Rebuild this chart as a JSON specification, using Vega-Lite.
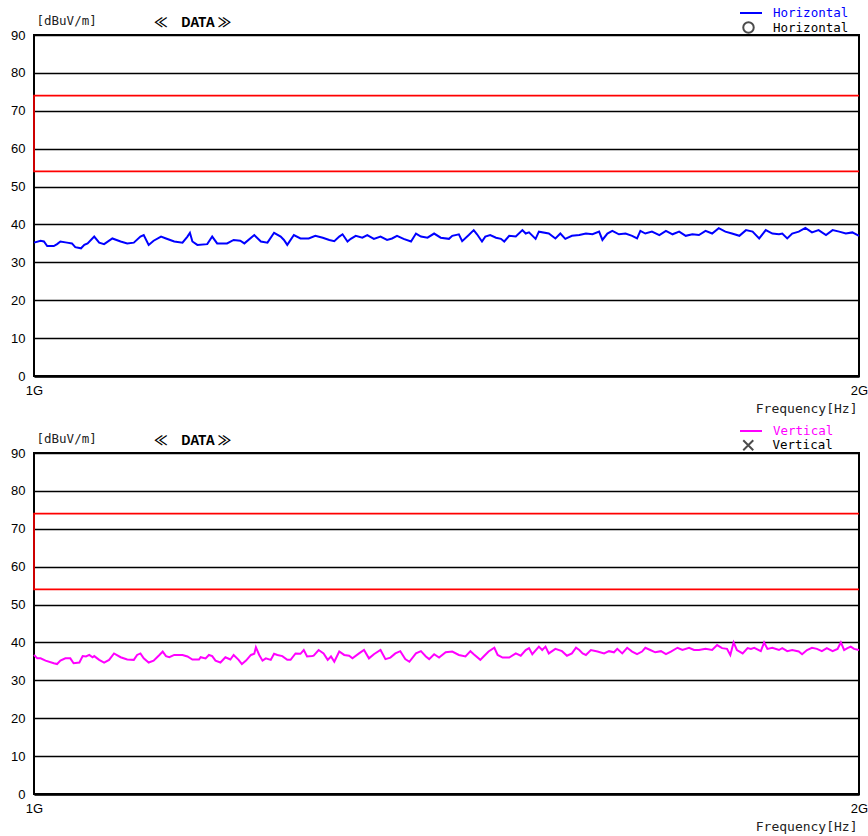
{
  "$schema": "https://vega.github.io/schema/vega-lite/v6.json",
  "padding": {"left": 9, "top": 0, "right": 0, "bottom": 0},
  "background": "white",
  "datasets": {
    "limit": [{"f": 2000, "v": 74, "o": 1}, {"f": 1000, "v": 74, "o": 2}, {"f": 1000, "v": 54, "o": 3}, {"f": 2000, "v": 54, "o": 4}],
    "none": [{"f": 1000, "v": null}],
    "h": [
      {"f":1000,"v":35.2},{"f":1008,"v":35.7},{"f":1012,"v":35.5},{"f":1016,"v":34.3},{"f":1024,"v":34.3},{"f":1028,"v":34.8},{"f":1032,"v":35.5},{"f":1040,"v":35.2},{"f":1046,"v":35.0},{"f":1050,"v":34.0},{"f":1057,"v":33.7},{"f":1061,"v":34.6},{"f":1065,"v":35.0},{"f":1073,"v":36.8},{"f":1079,"v":35.2},{"f":1085,"v":34.8},{"f":1095,"v":36.3},{"f":1105,"v":35.5},{"f":1113,"v":35.0},{"f":1121,"v":35.2},{"f":1129,"v":36.8},{"f":1133,"v":37.2},{"f":1139,"v":34.6},{"f":1145,"v":35.7},{"f":1154,"v":36.8},{"f":1160,"v":36.3},{"f":1170,"v":35.5},{"f":1180,"v":35.2},{"f":1186,"v":36.8},{"f":1189,"v":37.8},{"f":1192,"v":35.5},{"f":1198,"v":34.6},{"f":1210,"v":34.8},{"f":1216,"v":36.8},{"f":1222,"v":35.0},{"f":1234,"v":35.0},{"f":1242,"v":35.9},{"f":1250,"v":35.7},{"f":1255,"v":35.0},{"f":1267,"v":37.2},{"f":1275,"v":35.5},{"f":1283,"v":35.2},{"f":1291,"v":37.8},{"f":1299,"v":36.8},{"f":1303,"v":35.9},{"f":1307,"v":34.6},{"f":1315,"v":37.2},{"f":1323,"v":36.3},{"f":1333,"v":36.3},{"f":1341,"v":37.0},{"f":1350,"v":36.5},{"f":1358,"v":35.9},{"f":1364,"v":35.6},{"f":1370,"v":36.8},{"f":1374,"v":37.4},{"f":1380,"v":35.5},{"f":1384,"v":36.2},{"f":1390,"v":37.0},{"f":1398,"v":36.5},{"f":1404,"v":37.2},{"f":1412,"v":36.2},{"f":1420,"v":36.8},{"f":1428,"v":35.9},{"f":1434,"v":36.3},{"f":1440,"v":37.0},{"f":1448,"v":36.2},{"f":1457,"v":35.5},{"f":1463,"v":37.6},{"f":1469,"v":36.8},{"f":1477,"v":36.5},{"f":1485,"v":37.6},{"f":1493,"v":36.5},{"f":1503,"v":36.2},{"f":1507,"v":37.0},{"f":1515,"v":37.4},{"f":1519,"v":35.6},{"f":1527,"v":37.2},{"f":1533,"v":38.5},{"f":1537,"v":37.4},{"f":1543,"v":35.5},{"f":1547,"v":36.8},{"f":1553,"v":37.2},{"f":1560,"v":36.5},{"f":1566,"v":36.2},{"f":1570,"v":35.5},{"f":1576,"v":37.0},{"f":1584,"v":36.8},{"f":1592,"v":38.5},{"f":1596,"v":37.6},{"f":1600,"v":37.9},{"f":1608,"v":36.2},{"f":1612,"v":38.1},{"f":1624,"v":37.6},{"f":1632,"v":36.3},{"f":1638,"v":37.6},{"f":1644,"v":36.2},{"f":1652,"v":37.0},{"f":1661,"v":37.2},{"f":1669,"v":37.6},{"f":1677,"v":37.4},{"f":1685,"v":38.1},{"f":1689,"v":35.9},{"f":1695,"v":37.6},{"f":1701,"v":38.3},{"f":1709,"v":37.4},{"f":1717,"v":37.6},{"f":1725,"v":37.0},{"f":1731,"v":36.3},{"f":1735,"v":38.3},{"f":1741,"v":37.6},{"f":1749,"v":38.1},{"f":1758,"v":37.2},{"f":1766,"v":38.3},{"f":1774,"v":37.4},{"f":1782,"v":38.1},{"f":1790,"v":37.0},{"f":1798,"v":37.4},{"f":1806,"v":37.2},{"f":1814,"v":38.3},{"f":1822,"v":37.6},{"f":1830,"v":39.0},{"f":1838,"v":38.1},{"f":1846,"v":37.6},{"f":1855,"v":37.0},{"f":1863,"v":38.5},{"f":1871,"v":38.1},{"f":1879,"v":36.3},{"f":1887,"v":38.5},{"f":1895,"v":37.6},{"f":1903,"v":37.4},{"f":1907,"v":37.6},{"f":1913,"v":36.3},{"f":1919,"v":37.6},{"f":1927,"v":38.1},{"f":1935,"v":39.1},{"f":1943,"v":37.9},{"f":1951,"v":38.5},{"f":1960,"v":37.2},{"f":1968,"v":38.5},{"f":1976,"v":38.1},{"f":1984,"v":37.6},{"f":1992,"v":37.9},{"f":2000,"v":37.0}
    ],
    "vv": [
      {"f":1000,"v":36.7},{"f":1004,"v":35.8},{"f":1008,"v":35.8},{"f":1014,"v":35.2},{"f":1024,"v":34.5},{"f":1028,"v":34.3},{"f":1032,"v":35.2},{"f":1038,"v":35.8},{"f":1044,"v":35.8},{"f":1048,"v":34.5},{"f":1055,"v":34.7},{"f":1059,"v":36.4},{"f":1063,"v":36.3},{"f":1067,"v":36.7},{"f":1071,"v":36.1},{"f":1073,"v":36.4},{"f":1079,"v":35.4},{"f":1085,"v":34.7},{"f":1091,"v":35.4},{"f":1097,"v":37.1},{"f":1105,"v":36.1},{"f":1113,"v":35.5},{"f":1121,"v":35.4},{"f":1125,"v":36.7},{"f":1129,"v":37.1},{"f":1133,"v":35.8},{"f":1139,"v":34.7},{"f":1145,"v":35.2},{"f":1152,"v":36.7},{"f":1156,"v":37.6},{"f":1160,"v":36.4},{"f":1164,"v":36.1},{"f":1170,"v":36.7},{"f":1180,"v":36.7},{"f":1186,"v":36.3},{"f":1192,"v":35.5},{"f":1200,"v":35.5},{"f":1202,"v":36.1},{"f":1208,"v":35.8},{"f":1212,"v":36.7},{"f":1216,"v":36.4},{"f":1220,"v":35.2},{"f":1226,"v":34.7},{"f":1232,"v":36.1},{"f":1238,"v":35.5},{"f":1242,"v":36.7},{"f":1248,"v":35.4},{"f":1252,"v":34.3},{"f":1257,"v":35.2},{"f":1263,"v":36.7},{"f":1267,"v":37.0},{"f":1269,"v":38.7},{"f":1273,"v":36.7},{"f":1277,"v":35.2},{"f":1281,"v":35.8},{"f":1287,"v":35.4},{"f":1291,"v":37.0},{"f":1295,"v":36.7},{"f":1301,"v":36.4},{"f":1307,"v":35.4},{"f":1311,"v":35.4},{"f":1317,"v":37.1},{"f":1323,"v":37.0},{"f":1327,"v":38.0},{"f":1331,"v":36.3},{"f":1337,"v":36.4},{"f":1339,"v":36.5},{"f":1345,"v":38.0},{"f":1351,"v":37.1},{"f":1356,"v":35.4},{"f":1360,"v":36.3},{"f":1364,"v":34.9},{"f":1370,"v":37.6},{"f":1376,"v":36.7},{"f":1382,"v":36.5},{"f":1386,"v":35.8},{"f":1394,"v":37.1},{"f":1400,"v":38.0},{"f":1406,"v":35.8},{"f":1412,"v":36.9},{"f":1420,"v":38.0},{"f":1426,"v":35.6},{"f":1432,"v":36.0},{"f":1438,"v":37.1},{"f":1444,"v":37.7},{"f":1450,"v":35.6},{"f":1455,"v":34.9},{"f":1463,"v":37.1},{"f":1469,"v":37.7},{"f":1475,"v":36.3},{"f":1479,"v":35.6},{"f":1485,"v":36.9},{"f":1491,"v":36.0},{"f":1499,"v":37.4},{"f":1507,"v":37.6},{"f":1515,"v":36.7},{"f":1523,"v":36.3},{"f":1529,"v":37.7},{"f":1533,"v":36.9},{"f":1541,"v":35.4},{"f":1545,"v":36.3},{"f":1551,"v":37.6},{"f":1558,"v":38.6},{"f":1562,"v":36.7},{"f":1568,"v":36.0},{"f":1576,"v":36.0},{"f":1584,"v":37.1},{"f":1590,"v":36.5},{"f":1596,"v":38.0},{"f":1600,"v":38.5},{"f":1604,"v":36.9},{"f":1612,"v":38.9},{"f":1616,"v":38.0},{"f":1620,"v":38.9},{"f":1624,"v":37.1},{"f":1632,"v":38.3},{"f":1640,"v":37.7},{"f":1646,"v":36.5},{"f":1652,"v":37.1},{"f":1657,"v":38.6},{"f":1661,"v":38.0},{"f":1665,"v":37.1},{"f":1669,"v":36.7},{"f":1675,"v":38.0},{"f":1683,"v":37.6},{"f":1691,"v":37.1},{"f":1697,"v":37.7},{"f":1703,"v":37.4},{"f":1707,"v":38.3},{"f":1713,"v":37.1},{"f":1719,"v":38.6},{"f":1725,"v":37.6},{"f":1731,"v":36.9},{"f":1737,"v":37.6},{"f":1741,"v":38.6},{"f":1747,"v":38.0},{"f":1753,"v":37.4},{"f":1760,"v":37.7},{"f":1766,"v":36.9},{"f":1772,"v":37.6},{"f":1780,"v":38.6},{"f":1786,"v":38.0},{"f":1794,"v":38.6},{"f":1800,"v":38.0},{"f":1806,"v":38.0},{"f":1814,"v":38.3},{"f":1822,"v":38.0},{"f":1828,"v":39.3},{"f":1834,"v":38.5},{"f":1840,"v":38.3},{"f":1844,"v":36.7},{"f":1848,"v":40.0},{"f":1852,"v":38.0},{"f":1859,"v":37.1},{"f":1865,"v":38.5},{"f":1869,"v":38.3},{"f":1873,"v":38.6},{"f":1881,"v":37.7},{"f":1885,"v":40.0},{"f":1889,"v":38.3},{"f":1895,"v":38.6},{"f":1903,"v":38.0},{"f":1907,"v":38.5},{"f":1913,"v":37.7},{"f":1919,"v":38.0},{"f":1927,"v":37.6},{"f":1931,"v":36.9},{"f":1937,"v":38.0},{"f":1943,"v":38.6},{"f":1949,"v":38.3},{"f":1955,"v":37.7},{"f":1961,"v":38.5},{"f":1968,"v":37.7},{"f":1974,"v":38.3},{"f":1978,"v":40.0},{"f":1982,"v":38.0},{"f":1986,"v":38.5},{"f":1990,"v":38.9},{"f":1994,"v":38.3},{"f":2000,"v":38.0}
    ]
  },
  "config": {
    "view": {"stroke": "black", "strokeWidth": 2},
    "axisY": {"grid": true, "gridColor": "black", "gridWidth": 1.5, "gridOpacity": 1, "ticks": false, "domain": false, "labelOverlap": false, "labelPadding": 9, "labelFont": "Liberation Sans", "labelFontSize": 13, "labelColor": "black", "titleAngle": 0, "titleX": 2, "titleY": -15, "titleAlign": "left", "titleBaseline": "middle", "titleFont": "DejaVu Sans Mono", "titleFontSize": 12.5, "titleFontWeight": "normal", "titleColor": "#222"},
    "axisX": {"grid": false, "ticks": false, "domain": true, "domainColor": "black", "domainWidth": 2.5, "labelFont": "Liberation Sans", "labelFontSize": 13, "labelColor": "black", "labelPadding": 8, "labelFlush": false, "labelOverlap": false, "titleX": 823, "titleY": 32, "titleAlign": "right", "titleBaseline": "middle", "titleFont": "DejaVu Sans Mono", "titleFontSize": 13, "titleFontWeight": "normal", "titleColor": "#222"},
    "legend": {"orient": "none", "title": null, "padding": 0, "labelFont": "DejaVu Sans Mono", "labelFontSize": 12.5},
    "title": {"anchor": "start", "frame": "group", "dx": 120, "offset": -28, "font": "Noto Sans CJK JP", "fontSize": 13.5, "fontWeight": "bold", "color": "black"}
  },
  "vconcat": [
    {
      "title": "≪\u3000DATA ≫",
      "width": 825,
      "height": 341,
      "encoding": {
        "x": {"field": "f", "type": "quantitative", "scale": {"domain": [1000, 2000], "nice": false, "zero": false}, "axis": {"values": [1000, 2000], "labelExpr": "datum.value == 1000 ? '1G' : '2G'", "title": "Frequency[Hz]"}},
        "y": {"field": "v", "type": "quantitative", "scale": {"domain": [0, 90], "nice": false}, "axis": {"values": [0, 10, 20, 30, 40, 50, 60, 70, 80, 90], "title": "[dBuV/m]"}}
      },
      "layer": [
        {
          "data": {"name": "limit"},
          "mark": {"type": "line", "color": "red", "strokeWidth": 1.6, "clip": false},
          "encoding": {"order": {"field": "o", "type": "quantitative"}}
        },
        {
          "data": {"name": "h"},
          "mark": {"type": "line", "strokeWidth": 2},
          "encoding": {
            "color": {"datum": "Horizontal", "scale": {"domain": ["Horizontal"], "range": ["#0000ff"]}, "legend": {"legendX": 705, "legendY": -34, "symbolType": "stroke", "symbolSize": 484, "symbolStrokeWidth": 2, "labelColor": "#0000ff", "labelOffset": 10}}
          }
        },
        {
          "data": {"name": "none"},
          "mark": {"type": "point", "color": "black", "filled": false, "strokeWidth": 2},
          "encoding": {
            "shape": {"datum": "Horizontal", "scale": {"domain": ["Horizontal"], "range": ["circle"]}, "legend": {"legendX": 708, "legendY": -14, "symbolSize": 110, "symbolStrokeColor": "black", "symbolStrokeWidth": 2, "symbolFillColor": "transparent", "labelColor": "black", "labelOffset": 18}}
          }
        }
      ],
      "resolve": {"scale": {"color": "independent", "shape": "independent"}}
    },
    {
      "title": "≪\u3000DATA ≫",
      "width": 825,
      "height": 341,
      "encoding": {
        "x": {"field": "f", "type": "quantitative", "scale": {"domain": [1000, 2000], "nice": false, "zero": false}, "axis": {"values": [1000, 2000], "labelExpr": "datum.value == 1000 ? '1G' : '2G'", "title": "Frequency[Hz]"}},
        "y": {"field": "v", "type": "quantitative", "scale": {"domain": [0, 90], "nice": false}, "axis": {"values": [0, 10, 20, 30, 40, 50, 60, 70, 80, 90], "title": "[dBuV/m]"}}
      },
      "layer": [
        {
          "data": {"name": "limit"},
          "mark": {"type": "line", "color": "red", "strokeWidth": 1.6, "clip": false},
          "encoding": {"order": {"field": "o", "type": "quantitative"}}
        },
        {
          "data": {"name": "vv"},
          "mark": {"type": "line", "strokeWidth": 2},
          "encoding": {
            "color": {"datum": "Vertical", "scale": {"domain": ["Vertical"], "range": ["#ff00ff"]}, "legend": {"legendX": 705, "legendY": -34, "symbolType": "stroke", "symbolSize": 484, "symbolStrokeWidth": 2, "labelColor": "#ff00ff", "labelOffset": 10}}
          }
        },
        {
          "data": {"name": "none"},
          "mark": {"type": "point", "color": "black", "filled": false, "strokeWidth": 2},
          "encoding": {
            "shape": {"datum": "Vertical", "scale": {"domain": ["Vertical"], "range": ["M-1,-1L1,1M-1,1L1,-1"]}, "legend": {"legendX": 708, "legendY": -14, "symbolSize": 100, "symbolStrokeColor": "black", "symbolStrokeWidth": 2, "symbolFillColor": "transparent", "labelColor": "black", "labelOffset": 18}}
          }
        }
      ],
      "resolve": {"scale": {"color": "independent", "shape": "independent"}}
    }
  ],
  "spacing": 77,
  "bounds": "flush",
  "resolve": {"scale": {"color": "independent", "shape": "independent"}, "legend": {"color": "independent", "shape": "independent"}}
}
